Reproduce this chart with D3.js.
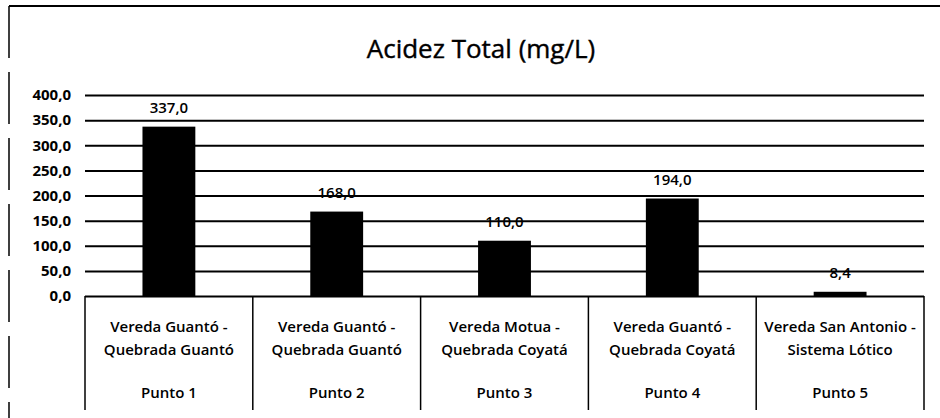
<!DOCTYPE html>
<html>
<head>
<meta charset="utf-8">
<script src="https://cdn.jsdelivr.net/npm/d3@7"></script>
<style>
  html, body { margin: 0; padding: 0; background: #fff; }
  svg { display: block; }
  text { font-family: "Open Sans", "DejaVu Sans", sans-serif; fill: #000; }
</style>
</head>
<body>
<svg id="chart" width="940" height="418"></svg>
<script>
// Total acidity per sampling point
const title = "Acidez Total (mg/L)";
const points = ["Punto 1", "Punto 2", "Punto 3", "Punto 4", "Punto 5"];
const placeLine1 = ["Vereda Guantó -", "Vereda Guantó -", "Vereda Motua -", "Vereda Guantó -", "Vereda San Antonio -"];
const placeLine2 = ["Quebrada Guantó", "Quebrada Guantó", "Quebrada Coyatá", "Quebrada Coyatá", "Sistema Lótico"];
const acidity = [337.0, 168.0, 110.0, 194.0, 8.4];
const yTicks = [0, 50, 100, 150, 200, 250, 300, 350, 400];

const fmt = v => v.toFixed(1).replace(".", ",");

const svg = d3.select("#chart");
const W = 940, H = 418;
const plot = { left: 85, right: 924, top: 95, bottom: 296 };

// chart frame (top and left edges of the chart area)
svg.append("line")
  .attr("x1", 9).attr("x2", W).attr("y1", 6).attr("y2", 6)
  .attr("stroke", "#000").attr("stroke-width", 2);
svg.append("line")
  .attr("x1", 9).attr("x2", 9).attr("y1", 6).attr("y2", H)
  .attr("stroke", "#000").attr("stroke-width", 1.5)
  .attr("stroke-dasharray", "52,14");

const x = d3.scaleBand()
  .domain(points)
  .range([plot.left, plot.right])
  .paddingInner(0.685)
  .paddingOuter(0.3425);

const y = d3.scaleLinear()
  .domain([0, 400])
  .range([plot.bottom, plot.top]);

// title
svg.append("text")
  .attr("x", 481).attr("y", 58)
  .attr("text-anchor", "middle")
  .attr("font-size", 26)
  .attr("stroke", "#000").attr("stroke-width", 0.4)
  .text(title);

// gridlines + value labels on the left
const yAxis = d3.axisLeft(y)
  .tickValues(yTicks)
  .tickSize(-(plot.right - plot.left))
  .tickPadding(14)
  .tickFormat(fmt);

const gy = svg.append("g")
  .attr("transform", `translate(${plot.left},0)`)
  .call(yAxis);
gy.select(".domain").remove();
gy.selectAll(".tick line").attr("stroke", "#000").attr("stroke-width", 2);
gy.selectAll(".tick text")
  .attr("font-size", 15)
  .attr("font-weight", 700)
  .attr("font-family", "'Open Sans', sans-serif")
  .attr("fill", "#000");

// bars
svg.append("g").selectAll("rect")
  .data(points)
  .join("rect")
  .attr("x", d => x(d))
  .attr("width", x.bandwidth())
  .attr("y", (d, i) => y(acidity[i]))
  .attr("height", (d, i) => y(0) - y(acidity[i]))
  .attr("fill", "#000");

// data labels
svg.append("g").selectAll("text")
  .data(points)
  .join("text")
  .attr("x", d => x(d) + x.bandwidth() / 2)
  .attr("y", (d, i) => y(acidity[i]) - 14)
  .attr("text-anchor", "middle")
  .attr("font-size", 15)
  .attr("font-weight", 600)
  .text((d, i) => fmt(acidity[i]));

// category table beneath the axis
const step = x.step();
const tableBottom = 410;
const boundaries = points.map(d => x(d) + x.bandwidth() / 2 - step / 2)
  .concat([x(points[points.length - 1]) + x.bandwidth() / 2 + step / 2]);

svg.append("g").selectAll("line")
  .data(boundaries)
  .join("line")
  .attr("x1", d => d).attr("x2", d => d)
  .attr("y1", y(0)).attr("y2", tableBottom)
  .attr("stroke", "#000").attr("stroke-width", 1.5);

const cat = svg.append("g").selectAll("g")
  .data(points)
  .join("g")
  .attr("transform", d => `translate(${x(d) + x.bandwidth() / 2},0)`);

cat.append("text")
  .attr("y", 332).attr("text-anchor", "middle").attr("font-size", 15).attr("font-weight", 600)
  .text((d, i) => placeLine1[i]);
cat.append("text")
  .attr("y", 355).attr("text-anchor", "middle").attr("font-size", 15).attr("font-weight", 600)
  .text((d, i) => placeLine2[i]);
cat.append("text")
  .attr("y", 398).attr("text-anchor", "middle").attr("font-size", 15).attr("font-weight", 600)
  .text(d => d);
</script>
</body>
</html>
